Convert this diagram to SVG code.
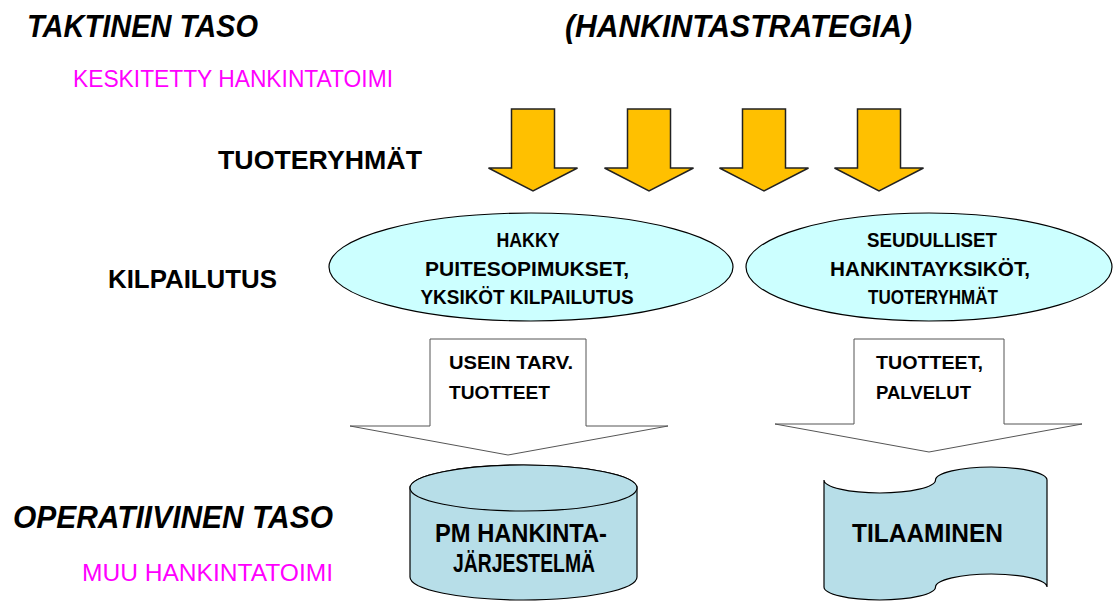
<svg xmlns="http://www.w3.org/2000/svg" width="1115" height="604" viewBox="0 0 1115 604">
<style>
.lbl{font-family:"Liberation Sans",Arial,sans-serif;font-weight:bold;fill:#000}
.it{font-style:italic}
.mag{font-family:"Liberation Sans",Arial,sans-serif;fill:#ff00ff}
.node{stroke:#000;stroke-width:1.2}
.yel{fill:#ffc000;stroke:#222;stroke-width:1.5;stroke-linejoin:miter}
.wh{fill:#fff;stroke:#555;stroke-width:1}
</style>
<defs>
<path id="ya" d="M-21.5,0 H21.5 V59 H44.5 L0,82 L-44.5,59 H-21.5 Z"/>
</defs>
<rect width="1115" height="604" fill="#fff"/>
<g id="titles">
<text class="lbl it" x="27" y="37" font-size="31" textLength="231" lengthAdjust="spacingAndGlyphs">TAKTINEN TASO</text>
<text class="lbl it" x="565" y="37" font-size="31" textLength="347" lengthAdjust="spacingAndGlyphs">(HANKINTASTRATEGIA)</text>
<text class="mag" x="73" y="87" font-size="24" textLength="320" lengthAdjust="spacingAndGlyphs">KESKITETTY HANKINTATOIMI</text>
<text class="lbl" x="218" y="169" font-size="25" textLength="204" lengthAdjust="spacingAndGlyphs">TUOTERYHMÄT</text>
<text class="lbl" x="108" y="288" font-size="25" textLength="169" lengthAdjust="spacingAndGlyphs">KILPAILUTUS</text>
<text class="lbl it" x="13" y="528" font-size="31" textLength="320" lengthAdjust="spacingAndGlyphs">OPERATIIVINEN TASO</text>
<text class="mag" x="82" y="581" font-size="24" textLength="251" lengthAdjust="spacingAndGlyphs">MUU HANKINTATOIMI</text>
</g>
<g id="connectors">
<use href="#ya" class="yel" x="533" y="109"/>
<use href="#ya" class="yel" x="649" y="109"/>
<use href="#ya" class="yel" x="764" y="109"/>
<use href="#ya" class="yel" x="879" y="109"/>
<g id="arrow-left">
<path class="wh" d="M430,339 H586 V426 H668 L508,455 L350,426 H430 Z"/>
<text class="lbl" x="449" y="369" font-size="19" textLength="124" lengthAdjust="spacingAndGlyphs">USEIN TARV.</text>
<text class="lbl" x="449" y="399" font-size="19" textLength="101" lengthAdjust="spacingAndGlyphs">TUOTTEET</text>
</g>
<g id="arrow-right">
<path class="wh" d="M854,339 H1004 V424 H1082 L929,452 L775,424 H854 Z"/>
<text class="lbl" x="876" y="369" font-size="19" textLength="107" lengthAdjust="spacingAndGlyphs">TUOTTEET,</text>
<text class="lbl" x="876" y="399" font-size="19" textLength="95" lengthAdjust="spacingAndGlyphs">PALVELUT</text>
</g>
</g>
<g id="hakky">
<ellipse class="node" cx="531" cy="267" rx="202" ry="54" fill="#ccffff"/>
<text class="lbl" x="528" y="247" font-size="20" text-anchor="middle" textLength="63" lengthAdjust="spacingAndGlyphs">HAKKY</text>
<text class="lbl" x="527" y="276" font-size="20" text-anchor="middle" textLength="204" lengthAdjust="spacingAndGlyphs">PUITESOPIMUKSET,</text>
<text class="lbl" x="527" y="304" font-size="20" text-anchor="middle" textLength="213" lengthAdjust="spacingAndGlyphs">YKSIKÖT KILPAILUTUS</text>
</g>
<g id="seudulliset">
<ellipse class="node" cx="929" cy="267" rx="183" ry="54" fill="#ccffff"/>
<text class="lbl" x="932" y="247" font-size="20" text-anchor="middle" textLength="130" lengthAdjust="spacingAndGlyphs">SEUDULLISET</text>
<text class="lbl" x="930" y="276" font-size="20" text-anchor="middle" textLength="200" lengthAdjust="spacingAndGlyphs">HANKINTAYKSIKÖT,</text>
<text class="lbl" x="933" y="304" font-size="20" text-anchor="middle" textLength="130" lengthAdjust="spacingAndGlyphs">TUOTERYHMÄT</text>
</g>
<g id="pm">
<path class="node" fill="#b7dee8" d="M410,488 V577 A113.5,23 0 0 0 637,577 V488 A113.5,23 0 0 0 410,488 Z"/>
<ellipse class="node" cx="523.5" cy="488" rx="113.5" ry="23" fill="#b7dee8"/>
<text class="lbl" x="521" y="542" font-size="26" text-anchor="middle" textLength="172" lengthAdjust="spacingAndGlyphs">PM HANKINTA-</text>
<text class="lbl" x="524" y="572" font-size="26" text-anchor="middle" textLength="142" lengthAdjust="spacingAndGlyphs">JÄRJESTELMÄ</text>
</g>
<g id="tilaaminen">
<path class="node" fill="#b7dee8" d="M824,480 A55.75,13 0 0 0 935.5,480 A55.75,13 0 0 1 1047,480 V587 A55.75,13 0 0 0 935.5,587 A55.75,13 0 0 1 824,587 Z"/>
<text class="lbl" x="852" y="542" font-size="26" textLength="151" lengthAdjust="spacingAndGlyphs">TILAAMINEN</text>
</g>
</svg>
